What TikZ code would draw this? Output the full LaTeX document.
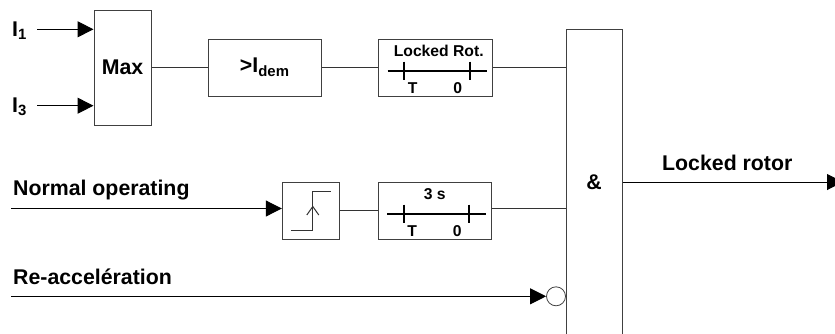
\documentclass[tikz,border=0pt]{standalone}
\usepackage{fontspec}
\setmainfont{Liberation Sans}
\usetikzlibrary{positioning,arrows.meta}
\begin{document}
\begin{tikzpicture}[x=1pt,y=-1pt,
    box/.style={draw=black!75, line width=1pt, minimum width=#1, minimum height=57pt, inner sep=0pt, align=center, font=\fontsize{21.3}{24}\bfseries},
    box/.default=113.5pt,
    txt/.style={inner sep=0pt, anchor=base west, font=\fontsize{21.3}{24}\bfseries},
    small/.style={inner sep=0pt, anchor=base, font=\fontsize{15.7}{18}\bfseries},
    wire/.style={line width=1pt, black!80},
    arrow/.style={line width=1pt, -{Triangle[length=16pt,width=16pt]}},
    bar/.style={line width=1.7pt}
  ]
  \useasboundingbox (0,0) rectangle (835,333);
  % inputs
  \node[txt] (i1) at (12,36) {I\textsubscript{1}};
  \node[txt] (i3) at (12,112) {I\textsubscript{3}};
  \node[txt] (normal) at (13,195.6) {Normal operating};
  \node[txt] (reacc) at (13,284) {Re-accelération};
  % blocks
  \node[box=57pt, minimum height=115pt] (max) at (122.5,67.5) {Max};
  \node[box, right=56pt of max] (dem) {>I\textsubscript{dem}};
  \node[box, right=56pt of dem] (locked) {};
  \node[box=57pt] (step) at (310.8,210.5) {};
  \node[box, right=37.7pt of step] (three) {};
  \node[box=56pt, minimum height=311pt] (and) at (594,184.5) {};
  \node[txt, anchor=center] (amp) at (594,182) {\&};
  \node[txt] (result) at (662,170.5) {Locked rotor};
  \node[circle, draw=black!75, line width=0.8pt, minimum size=19pt, inner sep=0pt] (neg) at (556,296.3) {};
  % free ends
  \coordinate (i1s) at (37.3,29.3);
  \coordinate (i3s) at (37.3,105.7);
  \coordinate (ns) at (11,208.5);
  \coordinate (rs) at (11,296.3);
  \coordinate (out) at (843,182);
  % connectors
  \draw[arrow] (i1s) -- (i1s-|max.west);
  \draw[arrow] (i3s) -- (i3s-|max.west);
  \draw[wire] (max) -- (dem);
  \draw[wire] (dem) -- (locked);
  \draw[wire] (locked.east) -- (locked.east-|and.west);
  \draw[arrow] (ns) -- (ns-|step.west);
  \draw[wire] (step) -- (three);
  \draw[wire] (three.east|-ns) -- (ns-|and.west);
  \draw[arrow] (rs) -- (neg);
  \draw[wire, -{Triangle[length=16pt,width=16pt]}, black] (out-|and.east) -- (out);
  % timers
  \foreach \t/\n/\d in {locked/Locked Rot./3.5, three/3 s/0} {
    \node[small] (\t-text) at ([shift={(\d,-11)}]\t.center) {\n};
    \node[small] (\t-T) at ([shift={(-22.6,25.5)}]\t.center) {T};
    \node[small] (\t-Z) at ([shift={(22.4,25.5)}]\t.center) {0};
    \draw[bar] ([shift={(-47.6,3.2)}]\t.center) -- ([shift={(51.4,3.2)}]\t.center);
    \draw[bar] ([shift={(-31,-6)}]\t.center) -- ([shift={(-31,12)}]\t.center);
    \draw[bar] ([shift={(34.4,-6)}]\t.center) -- ([shift={(34.4,12)}]\t.center);
  }
  % step symbol
  \draw[wire] ([shift={(-20,20)}]step.center) -- ([shift={(1.5,20)}]step.center) -- ([shift={(1.5,-19.5)}]step.center) -- ([shift={(20.5,-19.5)}]step.center);
  \draw[wire] ([shift={(-4,4.5)}]step.center) -- ([shift={(2,-4)}]step.center) -- ([shift={(8,4.5)}]step.center);
\end{tikzpicture}
\end{document}
